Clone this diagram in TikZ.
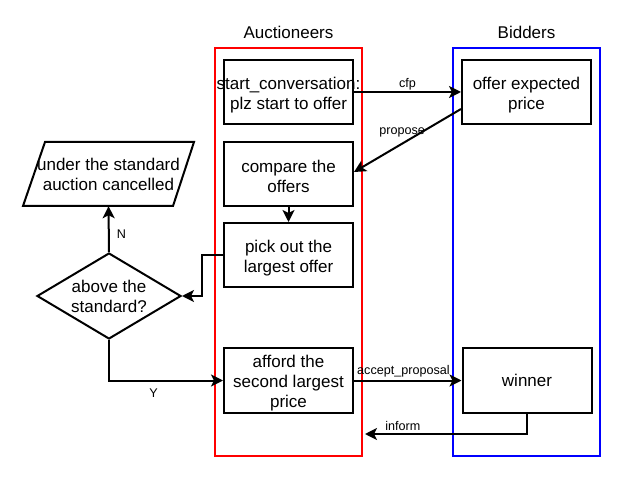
\documentclass[tikz,border=0pt]{standalone}
\usepackage{fontspec}
\setmainfont{Liberation Sans}
\usetikzlibrary{shapes.geometric,arrows.meta}
\newcommand\bxstrut{\rule{0pt}{18pt}}
\begin{document}
\begin{tikzpicture}[x=1pt,y=-1pt,
  txt/.style={font=\fontsize{17}{20}\selectfont, align=center},
  box/.style={txt, draw, line width=2pt, minimum width=129pt, minimum height=64pt, inner sep=0pt},
  lane/.style={draw, line width=2pt, minimum width=147pt, minimum height=408pt, inner sep=0pt},
  lbl/.style={font=\fontsize{12.6}{14}\selectfont, inner sep=1pt},
  arr/.style={line width=2pt, -{Stealth[length=12pt,width=12pt,inset=3pt]}},
]
\useasboundingbox (0,0) rectangle (623,478);
% lanes
\node[lane, draw=red] (laneA) at (288.5,252) {};
\node[lane, draw=blue] (laneB) at (526.5,252) {};
\node[txt] (titA) at (288.5,32) {Auctioneers};
\node[txt] (titB) at (526.5,32) {Bidders};
% boxes
\node[box] (start) at (288.5,92) {\bxstrut\makebox[129pt]{start\_conversation:}\\plz start to offer};
\node[box] (offer) at (526.5,92) {\bxstrut offer expected\\price};
\node[box] (compare) at (288.5,174) {\bxstrut compare the\\offers};
\node[box] (pick) at (288.5,255) {\bxstrut pick out the\\largest offer};
\node[box, minimum height=65pt] (afford) at (288.5,380.5) {\bxstrut afford the\\second largest\\price};
\node[box, minimum height=65pt] (winner) at (527,380.5) {winner};
% parallelogram
\draw[line width=2pt, line join=miter] (45,142) -- (194,142) -- (173,206) -- (23,206) -- cycle;
\node[txt, minimum width=150pt, minimum height=64pt, inner sep=0pt] (par) at (108.5,174) {under the standard\\auction cancelled};
% diamond
\node[txt, diamond, draw, line width=2pt, aspect=1.67, inner sep=0pt, minimum width=144pt, minimum height=86pt] (dia) at (109,296) {above the\\standard?};
\coordinate (infEnd) at (365,434);
% connectors
\draw[arr] (start.east) -- node[lbl, above=-0.5pt] {cfp} (offer.west);
\draw[arr] ([yshift=-17pt]offer.west) -- node[lbl, pos=0.55, above=5pt] {propose} ([yshift=2pt]compare.east);
\draw[arr] (compare.south) -- (pick.north);
\draw[arr] (pick.west) -- ++(-21,0) |- (dia.east);
\draw[arr] (dia.north) -- node[lbl, pos=0.38, right=6pt] {N} (par.south);
\draw[arr] (dia.south) |- node[lbl, pos=0.696, below=6pt] {Y} (afford.west);
\draw[arr] (afford.east) -- node[lbl, pos=0.46, above=1pt] {accept\_proposal} (winner.west);
\draw[arr] (winner.south) |- node[lbl, pos=0.883, above=1pt] {inform} (infEnd);
\end{tikzpicture}
\end{document}
